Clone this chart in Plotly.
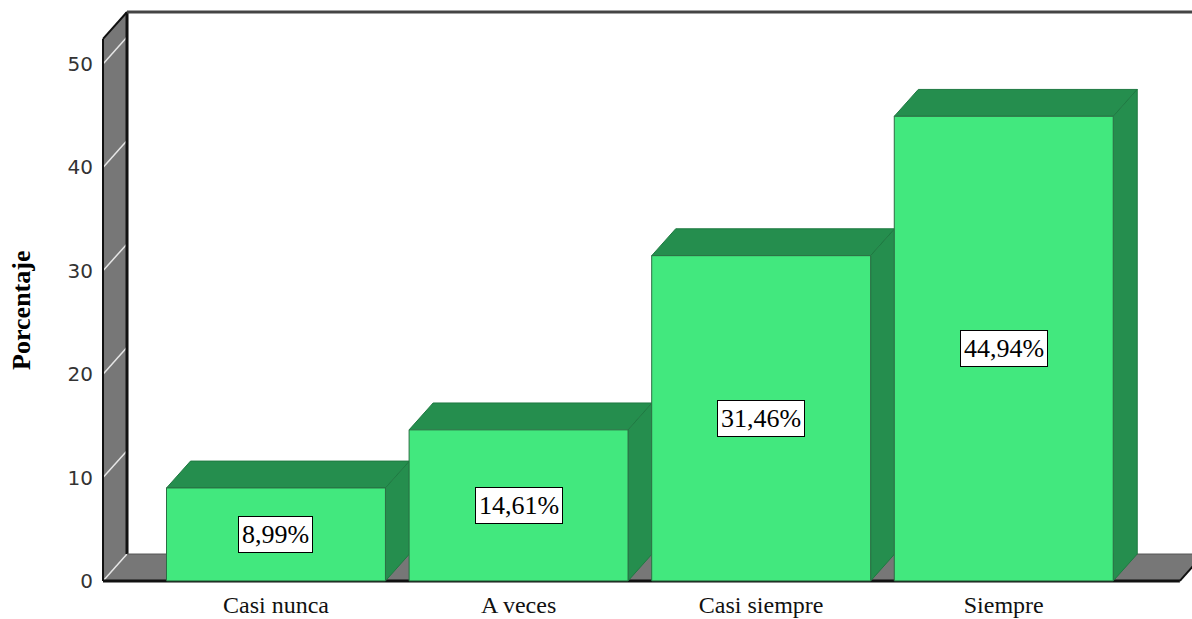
import plotly.graph_objects as go

# ---- data ----
categories = ["Casi nunca", "A veces", "Casi siempre", "Siempre"]
porcentajes = [8.99, 14.61, 31.46, 44.94]
y_ticks = [0, 10, 20, 30, 40, 50]

# ---- style / geometry ----
FRONT = "#42E87E"
DARK = "#258E4E"
WALL = "#777777"
W = 0.9025          # bar width (category units)
DX = 0.099          # depth offset, x (category units)
DY = 2.6            # depth offset, y (value units)
XW = -0.713         # left wall front position
XF = 3.726          # floor right front end
Y_FRONT_TOP = 52.43
Y_BACK_TOP = Y_FRONT_TOP + DY
X_RANGE = [-0.7254, 3.776]
Y_RANGE = [-0.3, 55.32]

xs = list(range(len(categories)))

fig = go.Figure()
fig.add_trace(go.Bar(
    x=xs, y=porcentajes, width=W,
    marker=dict(color=FRONT, line=dict(color="#2c6e44", width=1)),
    hoverinfo="skip",
))

shapes = []
# left wall
shapes.append(dict(type="path", layer="below",
    path=f"M {XW},0 L {XW},{Y_FRONT_TOP} L {XW+DX},{Y_BACK_TOP} L {XW+DX},{DY} Z",
    fillcolor=WALL, line=dict(width=0)))
# floor
shapes.append(dict(type="path", layer="below",
    path=f"M {XW},0 L {XF},0 L {XF+DX},{DY} L {XW+DX},{DY} Z",
    fillcolor=WALL, line=dict(width=0)))
# wall grid lines
for v in y_ticks:
    shapes.append(dict(type="line", layer="below", x0=XW, y0=v, x1=XW+DX, y1=v+DY,
                       line=dict(color="#e6e6e6", width=1.5)))
# outlines
line_specs = [
    (XW, 0, XW, Y_FRONT_TOP, "#111", 2),
    (XW, Y_FRONT_TOP, XW+DX, Y_BACK_TOP, "#111", 2),
    (XW+DX, DY, XW+DX, Y_BACK_TOP, "#111", 3),
    (XW+DX, Y_BACK_TOP, 4.0, Y_BACK_TOP, "#444", 3),
    (XW, 0, XF, 0, "#111", 3),
    (XF, 0, XF+DX, DY, "#111", 2),
    (XW+DX, DY, 4.0, DY, "#555", 1),
]
for x0, y0, x1, y1, c, w in line_specs:
    shapes.append(dict(type="line", layer="below", x0=x0, y0=y0, x1=x1, y1=y1,
                       line=dict(color=c, width=w)))
# bar top and side faces
for i, v in zip(xs, porcentajes):
    l, r = i - W / 2, i + W / 2
    shapes.append(dict(type="path", layer="below",
        path=f"M {l},{v} L {l+DX},{v+DY} L {r+DX},{v+DY} L {r},{v} Z",
        fillcolor=DARK, line=dict(color="#1f7a42", width=1)))
    shapes.append(dict(type="path", layer="below",
        path=f"M {r},0 L {r},{v} L {r+DX},{v+DY} L {r+DX},{DY} Z",
        fillcolor=DARK, line=dict(color="#1f7a42", width=1)))

annotations = []
for i, v in zip(xs, porcentajes):
    annotations.append(dict(
        x=i, y=v / 2, xref="x", yref="y", showarrow=False,
        text=f"{v:.2f}".replace(".", ",") + "%",
        font=dict(family="Liberation Serif", size=26, color="black"),
        bgcolor="white", bordercolor="black", borderwidth=1, borderpad=3,
    ))
annotations.append(dict(
    x=-0.0714, y=0.475, xref="paper", yref="paper", showarrow=False,
    text="<b>Porcentaje</b>", textangle=-90,
    font=dict(family="Liberation Serif", size=26, color="black"),
    xanchor="center", yanchor="middle",
))

fig.update_layout(
    width=1192, height=619,
    margin=dict(l=100, r=0, t=9, b=35),
    plot_bgcolor="white", paper_bgcolor="white",
    showlegend=False,
    shapes=shapes, annotations=annotations,
    xaxis=dict(range=X_RANGE, tickvals=xs, ticktext=categories,
               showgrid=False, zeroline=False, showline=False, ticks="",
               ticklabelstandoff=4, automargin=False,
               tickfont=dict(family="Liberation Serif", size=24, color="#111")),
    yaxis=dict(range=Y_RANGE, tickvals=y_ticks,
               showgrid=False, zeroline=False, showline=False, ticks="",
               ticklabelstandoff=6, automargin=False,
               tickfont=dict(family="DejaVu Sans", size=20, color="#333")),
)

fig.write_html("out.html")
